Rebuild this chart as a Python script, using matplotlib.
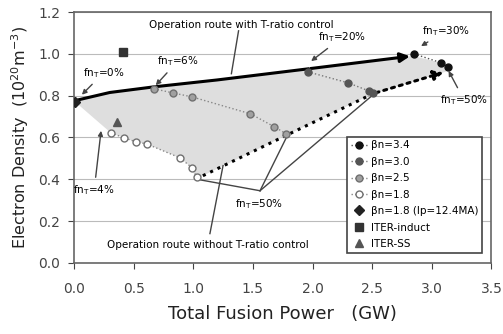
import numpy as np
import matplotlib
matplotlib.use('Agg')
import matplotlib.pyplot as plt

plt.rcParams['font.family'] = ['DejaVu Sans']

# series (fusion power GW, density 1e20 m^-3)
b34_x = [2.85, 3.08, 3.14]
b34_y = [1.00, 0.957, 0.938]
b30_x = [1.96, 2.30, 2.47, 2.51]
b30_y = [0.914, 0.861, 0.823, 0.813]
b25_x = [0.67, 0.83, 0.99, 1.48, 1.68, 1.78]
b25_y = [0.833, 0.813, 0.794, 0.713, 0.651, 0.617]
b18_x = [0.31, 0.42, 0.52, 0.61, 0.89, 0.99, 1.03]
b18_y = [0.622, 0.598, 0.579, 0.569, 0.502, 0.455, 0.41]
ip_x, ip_y = [0.01], [0.77]
induct_x, induct_y = [0.41], [1.01]
ss_x, ss_y = [0.36], [0.675]

# operation routes
with_x = [0.0, 0.30, 0.67, 1.20, 1.96, 2.84]
with_y = [0.775, 0.815, 0.842, 0.875, 0.928, 0.99]
without_x = [1.02, 1.78, 2.51, 3.12]
without_y = [0.40, 0.61, 0.81, 0.915]

fig = plt.figure(figsize=(5.03, 3.34), dpi=100)
ax = fig.add_axes([0.147, 0.213, 0.83, 0.751])

# shaded operating region
px = with_x + [3.08, 3.14] + without_x[::-1] + b18_x[::-1][1:] + [0.0]
py = with_y + [0.957, 0.938] + without_y[::-1] + b18_y[::-1][1:] + [0.775]
ax.fill(px, py, color='#dedede', zorder=1, lw=0)

ax.plot(b34_x, b34_y, ':', color='#555555', lw=1, marker='o', ms=5,
        mfc='#111111', mec='#111111', zorder=4, label='βn=3.4')
ax.plot(b30_x, b30_y, ':', color='#777777', lw=1, marker='o', ms=5,
        mfc='#555555', mec='#555555', zorder=4, label='βn=3.0')
ax.plot(b25_x, b25_y, ':', color='#888888', lw=1, marker='o', ms=5,
        mfc='#a0a0a0', mec='#707070', zorder=4, label='βn=2.5')
ax.plot(b18_x, b18_y, ':', color='#888888', lw=1, marker='o', ms=5,
        mfc='white', mec='#707070', zorder=4, label='βn=1.8')
ax.plot(ip_x, ip_y, 'D', color='#222222', ms=5, zorder=5, label='βn=1.8 (Ip=12.4MA)')
ax.plot(induct_x, induct_y, 's', color='#333333', ms=6, zorder=5, label='ITER-induct')
ax.plot(ss_x, ss_y, '^', color='#555555', ms=6, zorder=5, label='ITER-SS')

# routes with arrowheads
ax.plot(with_x[:-1], with_y[:-1], '-', color='black', lw=2.2, zorder=3)
ax.annotate('', xy=(with_x[-1], with_y[-1]), xytext=(with_x[-2], with_y[-2]),
            arrowprops=dict(arrowstyle='-|>', color='black', lw=2.2, mutation_scale=14), zorder=3)
ax.plot(without_x[:-1], without_y[:-1], ':', color='black', lw=2.2, zorder=3)
ax.annotate('', xy=(without_x[-1], without_y[-1]), xytext=(without_x[-2], without_y[-2]),
            arrowprops=dict(arrowstyle='-|>', color='black', lw=2.2, ls=':', mutation_scale=14), zorder=3)

fs = 7.5
arr = dict(arrowstyle='-|>', color='#444444', lw=1, mutation_scale=7)
ax.annotate('fn$_\\mathrm{T}$=0%', xy=(0.05, 0.795), xytext=(0.25, 0.91), fontsize=fs,
            ha='center', va='center', arrowprops=arr)
ax.annotate('fn$_\\mathrm{T}$=6%', xy=(0.67, 0.84), xytext=(0.87, 0.965), fontsize=fs,
            ha='center', va='center', arrowprops=arr)
ax.annotate('fn$_\\mathrm{T}$=20%', xy=(1.97, 0.957), xytext=(2.25, 1.08), fontsize=fs,
            ha='center', va='center', arrowprops=arr)
ax.annotate('fn$_\\mathrm{T}$=30%', xy=(2.89, 1.03), xytext=(3.12, 1.11), fontsize=fs,
            ha='center', va='center', arrowprops=arr)
ax.annotate('fn$_\\mathrm{T}$=50%', xy=(3.13, 0.93), xytext=(3.27, 0.78), fontsize=fs,
            ha='center', va='center', arrowprops=arr)
ax.annotate('fn$_\\mathrm{T}$=4%', xy=(0.23, 0.645), xytext=(0.17, 0.35), fontsize=fs,
            ha='center', va='center', arrowprops=arr)

ax.text(1.55, 0.28, 'fn$_\\mathrm{T}$=50%', fontsize=fs, ha='center', va='center')
apex = (1.56, 0.345)
for tx, ty in zip(without_x[:3], without_y[:3]):
    ax.plot([apex[0], tx + 0.01], [apex[1], ty], '-', color='#444444', lw=1, zorder=3)

ax.text(1.40, 1.14, 'Operation route with T-ratio control', fontsize=fs, ha='center', va='center')
ax.plot([1.38, 1.32], [1.11, 0.905], '-', color='#444444', lw=1, zorder=3)
ax.text(1.12, 0.086, 'Operation route without T-ratio control', fontsize=fs, ha='center', va='center')
ax.plot([1.14, 1.25], [0.14, 0.465], '-', color='#444444', lw=1, zorder=3)

ax.set_xlim(0, 3.5)
ax.set_ylim(0, 1.2)
ax.set_xticks(np.arange(0, 3.51, 0.5))
ax.set_yticks(np.arange(0, 1.21, 0.2))
ax.xaxis.set_major_formatter(matplotlib.ticker.FormatStrFormatter('%.1f'))
ax.yaxis.set_major_formatter(matplotlib.ticker.FormatStrFormatter('%.1f'))
ax.grid(axis='y', color='#bbbbbb', lw=0.8)
ax.set_axisbelow(True)
ax.tick_params(labelsize=10, colors='#444444', length=4, direction='out')
ax.tick_params(axis='x', pad=10)
ax.tick_params(axis='y', pad=6)
for s in ax.spines.values():
    s.set_color('#666666')
    s.set_linewidth(1.2)

ax.set_xlabel('Total Fusion Power   (GW)', fontsize=13, color='#222222', labelpad=6)
ax.set_ylabel('Electron Density  (10$^{20}$m$^{-3}$)', fontsize=11.5, color='#222222', labelpad=5)

leg = ax.legend(loc='lower right', bbox_to_anchor=(0.99, 0.02), fontsize=7.5, frameon=True,
                fancybox=False, edgecolor='#444444', handlelength=1.5, handletextpad=0.4,
                borderpad=0.35, labelspacing=0.62, framealpha=1)
leg.get_frame().set_linewidth(1.2)

fig.savefig('out.png', dpi=100)
